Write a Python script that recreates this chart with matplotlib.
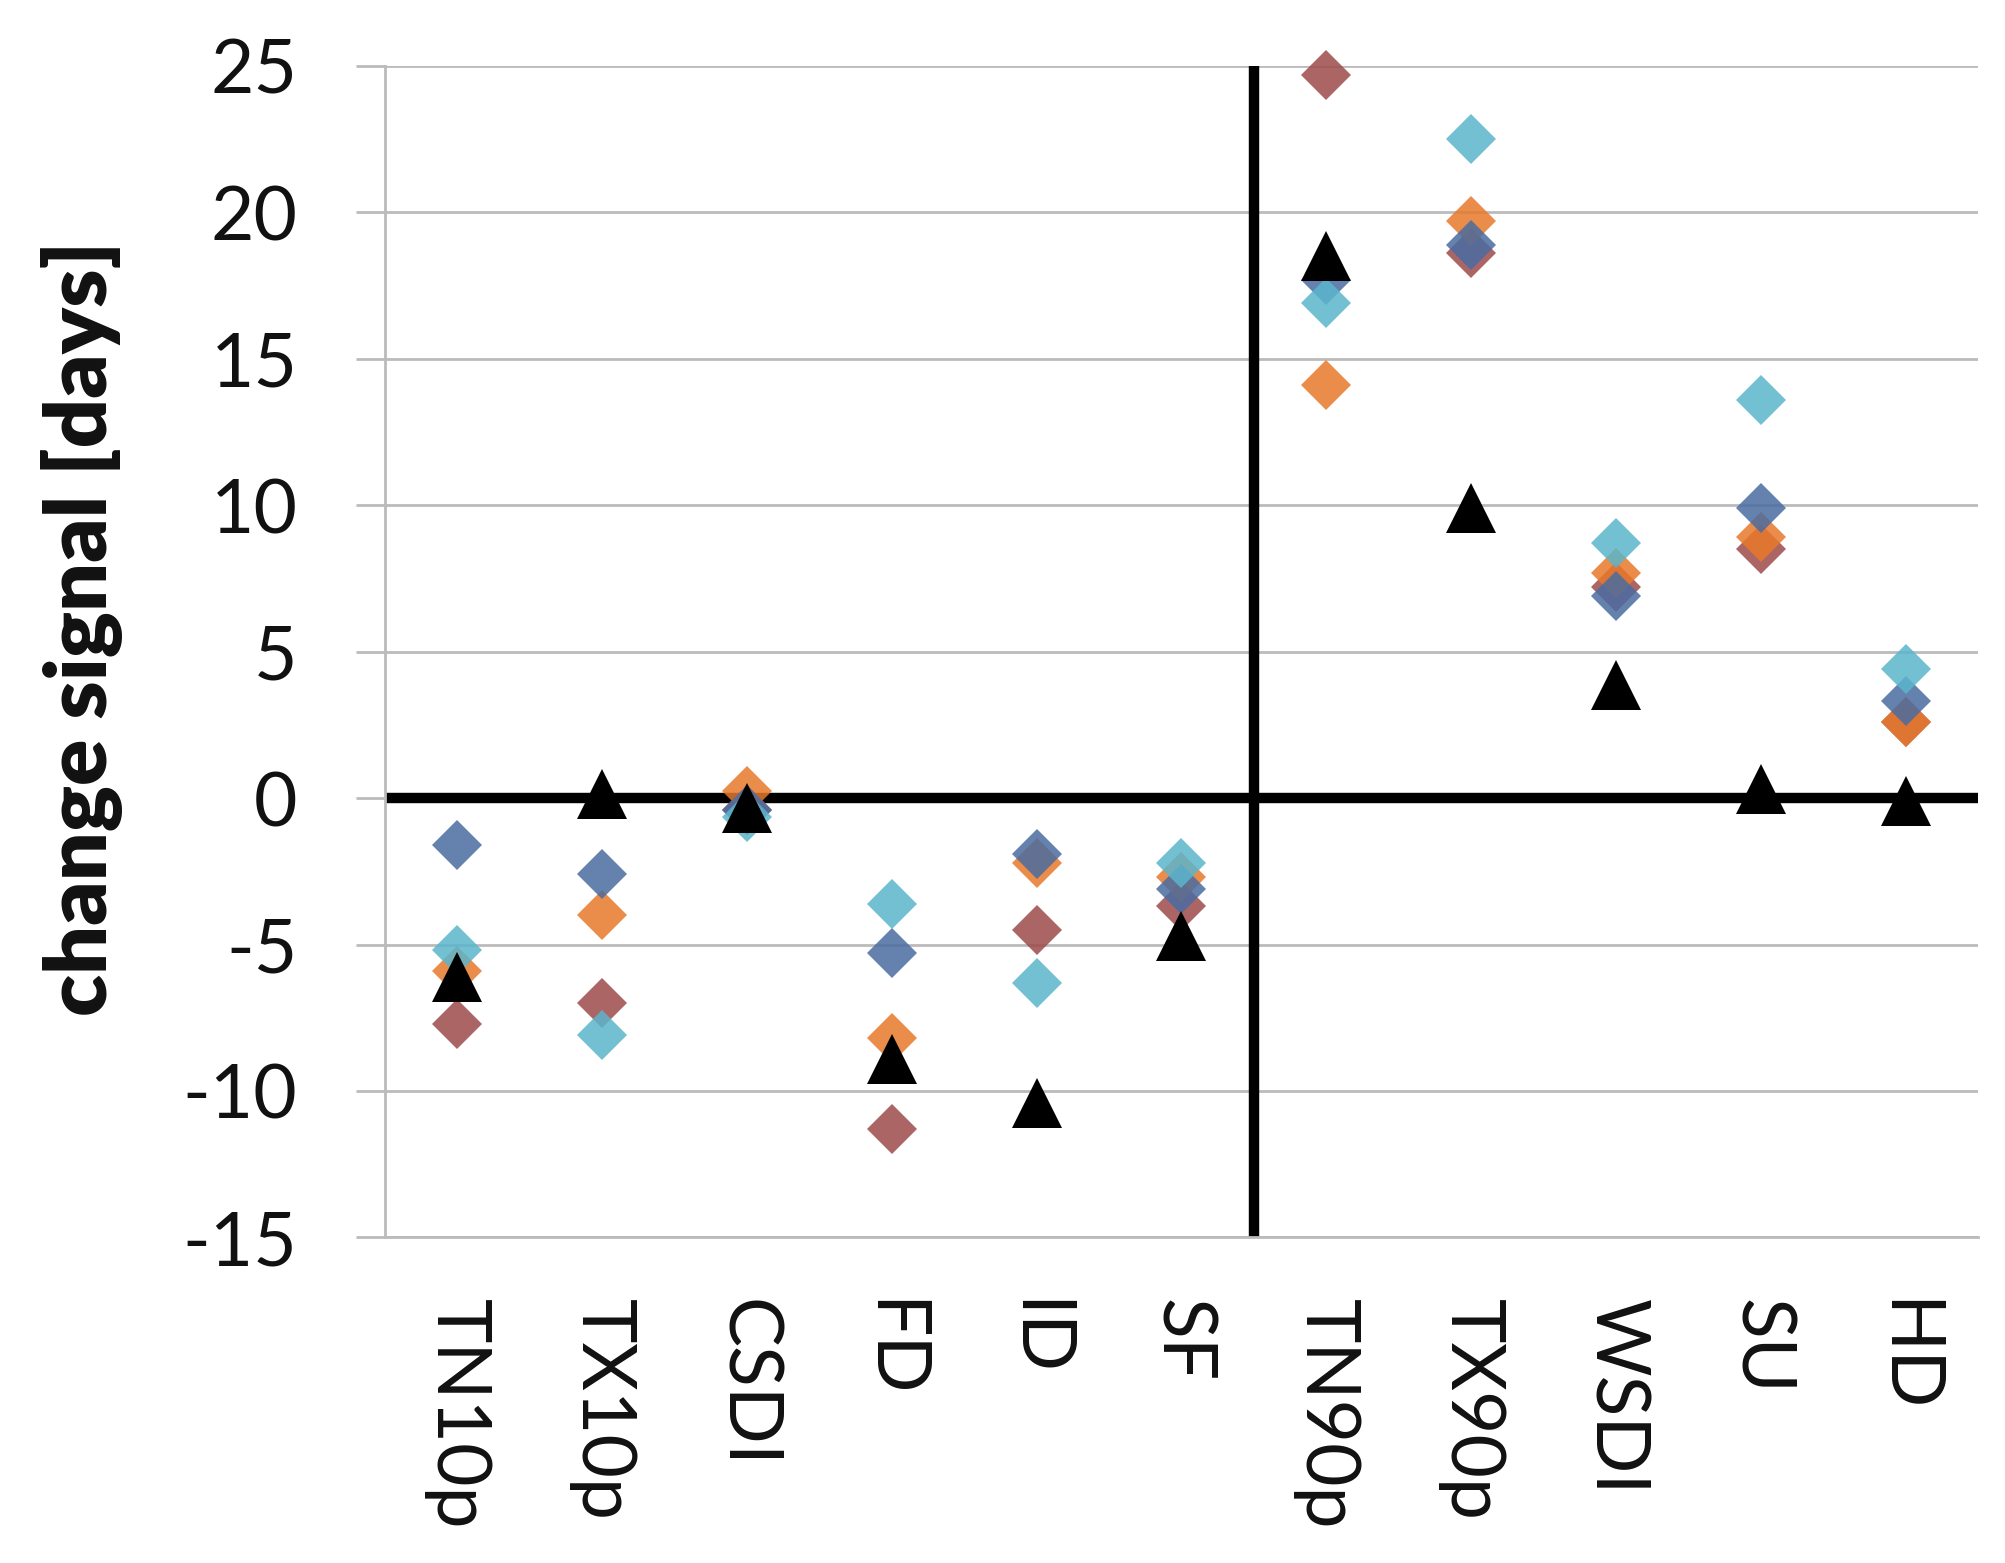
import matplotlib.pyplot as plt
import numpy as np

plt.rcParams['axes.unicode_minus'] = False

# climate indices on the category axis
indices = ["TN10p", "TX10p", "CSDI", "FD", "ID", "SF",
           "TN90p", "TX90p", "WSDI", "SU", "HD"]

# change signals [days] per model (diamonds) and the ensemble (triangles)
model_red = [-7.7, -7.0, -0.4, -11.3, -4.5, -3.7, 24.7, 18.6, 7.2, 8.5, 2.6]
model_orange = [-5.9, -4.0, 0.25, -8.2, -2.2, -2.7, 14.1, 19.7, 7.7, 8.9, 2.6]
model_blue = [-1.6, -2.6, -0.4, -5.3, -1.9, -3.1, 17.7, 18.9, 6.9, 9.9, 3.3]
model_cyan = [-5.2, -8.1, -0.65, -3.6, -6.3, -2.2, 16.9, 22.5, 8.7, 13.6, 4.4]
ensemble = [-6.1, 0.15, -0.35, -8.9, -10.4, -4.7, 18.5, 9.9, 3.85, 0.3, -0.1]

colors = ['#9E4A4A', '#E8792A', '#4A6CA0', '#5BB5CC']

fig = plt.figure(figsize=(20.05, 15.63), dpi=100)
ax = fig.add_axes([0.192, 0.2083, 0.7945, 0.7495])

x = np.arange(len(indices))
for vals, c in zip([model_red, model_orange, model_blue, model_cyan], colors):
    ax.plot(x, vals, linestyle='none', marker='D', markersize=25,
            markeredgewidth=0, color=c, alpha=0.85, zorder=3, clip_on=False)
ax.plot(x, ensemble, linestyle='none', marker='^', markersize=36,
        markeredgewidth=0, color='black', zorder=4, clip_on=False)

# thick cross lines
ax.axhline(0, color='black', lw=7.5, zorder=2)
ax.axvline(5.5, color='black', lw=7.5, zorder=2)

ax.set_xlim(-0.5, 10.5)
ax.set_ylim(-15, 25)
ax.set_yticks(np.arange(-15, 26, 5))
ax.yaxis.grid(True, color='#BBBBBB', lw=2, zorder=1)
ax.set_axisbelow(True)

for s in ['top', 'right']:
    ax.spines[s].set_visible(False)
for s in ['left', 'bottom']:
    ax.spines[s].set_color('#BBBBBB')
    ax.spines[s].set_linewidth(2)

ax.set_xticks(x)
ax.set_xticklabels(indices, rotation=-90, ha='center', va='top',
                   fontsize=54, family='Lato', color='#111111')
ax.tick_params(axis='x', length=0, pad=44)
ax.tick_params(axis='y', length=21, width=2, color='#BBBBBB', pad=42,
               labelsize=54, labelcolor='#111111')
for lab in ax.get_yticklabels():
    lab.set_family('Lato')

fig.text(0.041, 0.598, "change signal [days]", rotation=90, ha='center',
         va='center', fontsize=62, fontweight='heavy', family='Lato',
         color='#111111')

fig.savefig("out.png", dpi=100)
